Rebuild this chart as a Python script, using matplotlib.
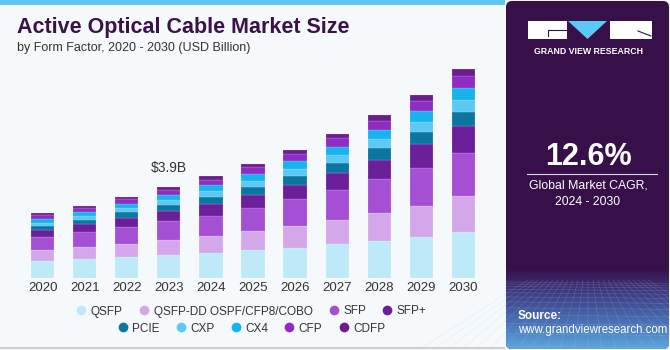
import matplotlib.pyplot as plt
import numpy as np
from matplotlib.patches import FancyBboxPatch, Rectangle, Polygon
from matplotlib.colors import LinearSegmentedColormap
from matplotlib.lines import Line2D

years = ['2020', '2021', '2022', '2023', '2024', '2025',
         '2026', '2027', '2028', '2029', '2030']
segments = ['QSFP', 'QSFP-DD OSPF/CFP8/COBO', 'SFP', 'SFP+',
            'PCIE', 'CXP', 'CX4', 'CFP', 'CDFP']
values = {
    'QSFP':                   [0.75, 0.84, 0.92, 1.00, 1.09, 1.21, 1.31, 1.47, 1.61, 1.76, 1.97],
    'QSFP-DD OSPF/CFP8/COBO': [0.44, 0.49, 0.56, 0.64, 0.71, 0.81, 0.93, 1.03, 1.17, 1.35, 1.54],
    'SFP':                    [0.57, 0.64, 0.70, 0.81, 0.88, 0.98, 1.14, 1.27, 1.47, 1.62, 1.84],
    'SFP+':                   [0.31, 0.34, 0.40, 0.43, 0.50, 0.56, 0.62, 0.74, 0.82, 1.00, 1.14],
    'PCIE':                   [0.16, 0.18, 0.24, 0.24, 0.30, 0.34, 0.37, 0.43, 0.49, 0.54, 0.63],
    'CXP':                    [0.14, 0.17, 0.18, 0.23, 0.24, 0.27, 0.30, 0.33, 0.38, 0.43, 0.50],
    'CX4':                    [0.16, 0.17, 0.18, 0.21, 0.26, 0.29, 0.34, 0.35, 0.40, 0.45, 0.51],
    'CFP':                    [0.18, 0.18, 0.21, 0.21, 0.24, 0.30, 0.29, 0.37, 0.38, 0.44, 0.51],
    'CDFP':                   [0.07, 0.09, 0.10, 0.13, 0.14, 0.13, 0.18, 0.18, 0.24, 0.26, 0.29],
}
colors = ['#bde9f9', '#d4a7ea', '#a54fd5', '#6c1f9b',
          '#0b76a0', '#5cc9f5', '#16b3ef', '#902cc4', '#6a1e8c']
label_year = '2023'
label_text = '$3.9B'

W, H = 670, 350
bg = '#f5f9fc'
fig = plt.figure(figsize=(W / 100, H / 100), dpi=100, facecolor=bg)

def fx(x):
    return x / W

def fy(y):
    return 1 - y / H

# main chart
ax = fig.add_axes([fx(17.5), fy(278.3), fx(471), (278.3 - 60) / H])
ax.set_facecolor('none')
x = np.arange(len(years))
bottom = np.zeros(len(years))
for name, c in zip(segments, colors):
    v = np.array(values[name])
    ax.bar(x, v, width=0.55, bottom=bottom, color=c, edgecolor='#ffffff60', linewidth=0.3)
    bottom += v
i = years.index(label_year)
ax.text(x[i], bottom[i] + 0.5, label_text, ha='center', va='bottom',
        fontsize=10, color='#333333', family='Liberation Sans')
ax.set_xlim(-0.6, 10.6)
ax.set_ylim(0, 9.33)
ax.set_xticks(x)
ax.set_xticklabels(years, fontsize=9.5, color='#333333', family='Liberation Sans')
ax.tick_params(axis='x', length=0, pad=3)
ax.set_yticks([])
for s in ax.spines.values():
    s.set_visible(False)

# legend: two centered rows
def handles(names):
    return [Line2D([], [], marker='o', linestyle='none', markersize=7,
                   markerfacecolor=colors[segments.index(n)], markeredgewidth=0)
            for n in names]

row1 = segments[:4]
row2 = segments[4:]
for names, yy in [(row1, 311.5), (row2, 328.5)]:
    leg = fig.legend(handles(names), names, loc='center', bbox_to_anchor=(fx(251), fy(yy)),
                     ncol=len(names), frameon=False, handletextpad=0.3, columnspacing=1.3,
                     prop={'family': 'Liberation Sans', 'size': 8.5}, handlelength=1.0)
    for t in leg.get_texts():
        t.set_color('#333333')

# titles
fig.text(fx(17), fy(28), 'Active Optical Cable Market Size', fontsize=15.5,
         fontweight='bold', color='#3a1248', va='center', family='Liberation Sans')
fig.text(fx(17), fy(48), 'by Form Factor, 2020 - 2030 (USD Billion)', fontsize=9,
         color='#333333', va='center', family='Liberation Sans')

# frame decorations
deco = fig.add_axes([0, 0, 1, 1])
deco.set_xlim(0, W)
deco.set_ylim(H, 0)
deco.axis('off')
deco.add_patch(Rectangle((0, 0), 505, 5, color='#5ec6ef', lw=0))
deco.add_patch(Rectangle((0, 347), 505, 1.5, color='#cfcfcf', lw=0))

# right panel
pc = '#37104a'
panel = FancyBboxPatch((506, 1), 163, 348, boxstyle='round,pad=0,rounding_size=6',
                       facecolor=pc, edgecolor='none')
deco.add_patch(panel)
cmap = LinearSegmentedColormap.from_list('g', [pc, '#3f3f86', '#4a70b4', '#5aa6dd'])
grad = np.linspace(0, 1, 100).reshape(-1, 1)
im = deco.imshow(grad, extent=(506, 669, 349, 268), cmap=cmap, aspect='auto', zorder=2)
im.set_clip_path(panel)

# faint perspective mesh
yy = 282.0
step = 2.0
while yy < 349:
    deco.plot([506, 669], [yy, yy + 1.5], color='#a9c8f0', lw=0.35, alpha=0.3, zorder=3)
    yy += step
    step *= 1.2
for k in range(-12, 13):
    deco.plot([588 + k * 5, 588 + k * 14], [280, 349], color='#a9c8f0', lw=0.35,
              alpha=0.3, zorder=3, clip_on=True)
deco.set_xlim(0, W)

# logo
deco.add_patch(Rectangle((528, 21), 39, 18, color='white', lw=0, zorder=4))
deco.add_patch(Polygon([(568, 21), (607, 21), (587.5, 39)], color='#5cc9f5', lw=0, zorder=4))
deco.add_patch(Rectangle((610, 21), 42, 18, color='white', lw=0, zorder=4))
deco.plot([548, 548, 566], [36, 30, 30], color=pc, lw=0.8, zorder=5)
deco.plot([638, 651], [31, 36], color=pc, lw=0.8, zorder=5)
deco.text(588, 51, 'GRAND VIEW RESEARCH', color='white', fontsize=6.3, fontweight='bold',
          ha='center', va='center', family='Liberation Sans', zorder=5)

deco.text(588, 157, '12.6%', color='white', fontsize=22, fontweight='bold',
          ha='center', va='center', family='Liberation Sans', zorder=5)
deco.plot([527, 657], [173.5, 173.5], color='#d9d9e6', lw=0.8, zorder=5)
deco.text(588, 186, 'Global Market CAGR,', color='white', fontsize=8.8,
          ha='center', va='center', family='Liberation Sans', zorder=5)
deco.text(588, 202, '2024 - 2030', color='white', fontsize=8.8,
          ha='center', va='center', family='Liberation Sans', zorder=5)
deco.text(518, 316, 'Source:', color='white', fontsize=8.5, fontweight='bold',
          ha='left', va='center', family='Liberation Sans', zorder=5)
deco.text(518, 330, 'www.grandviewresearch.com', color='white', fontsize=8.3,
          ha='left', va='center', family='Liberation Sans', zorder=5)

fig.savefig('out.png', dpi=100, facecolor=bg)
